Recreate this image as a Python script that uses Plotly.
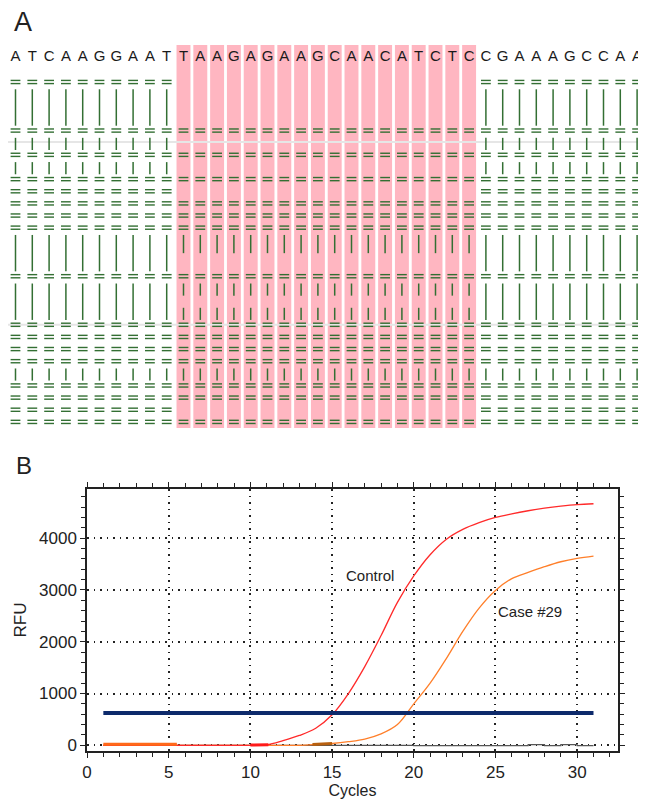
import plotly.graph_objects as go

# ---------------- Panel A data ----------------
sequence = list("ATCAAGGAATTAAGAGAAGCAACATCTCCGAAAGCCAA")
highlight_cols = list(range(10, 28))
flank_match_rows = [0, 4, 6, 8, 9, 10, 11, 12, 16, 20, 21, 22, 23, 25, 26, 27, 28]
flank_gap_segments = [(0, 4), (4, 6), (6, 8), (12, 16), (16, 20), (23, 25)]
core_match_rows = [4, 6, 8, 10, 11, 12, 16, 20, 21, 22, 23, 25, 26, 28]
core_gap_segments = [(12, 14.5), (16, 18), (18, 20), (23, 25)]
separator_rows = [4.94, 20.0]

# ---------------- Panel B data ----------------
cycles = list(range(1, 32))
control_rfu = [0, 0, 0, 0, 0, 0, 0, 0, 0, 0, 10, 90, 190, 330, 590, 1000, 1520, 2120,
               2760, 3270, 3680, 3980, 4170, 4300, 4400, 4470, 4530, 4580, 4620, 4650, 4665]
case29_rfu = [0, 0, 0, 0, 0, 0, 0, 0, 0, 0, 0, 0, 0, 15, 35, 70, 120, 220, 400, 800,
              1200, 1680, 2200, 2650, 2990, 3220, 3340, 3450, 3545, 3610, 3655]
ntc_rfu = [0, 0, 0, 0, 0, 0, 0, 0, 0, 0, 0, 0, 0, 0, 0, 0, 0, 0, 0, -8, -8, -8, -8, -8,
           -8, -8, 15, -8, 15, -8, -8]
threshold_rfu = 625
threshold_cycles = [1, 31]
base_case_cycles = [1, 5.5]
base_case_rfu = [20, 20]
base_ctrl_cycles = [10, 11.1]
base_ctrl_rfu = [5, 10]
base_case2_cycles = [13.8, 15]
base_case2_rfu = [15, 35]
xticks = [0, 5, 10, 15, 20, 25, 30]
yticks = [0, 1000, 2000, 3000, 4000]

GREEN = "#336f33"
W, H = 638, 792  # page body adds an 8px offset
fig = go.Figure()

# pink highlight columns
fig.add_trace(go.Bar(
    x=highlight_cols, y=[31.55] * len(highlight_cols), base=[-3.05] * len(highlight_cols),
    width=0.83, marker=dict(color="#ffb6c1", line=dict(width=0)),
    xaxis="x", yaxis="y", hoverinfo="skip", showlegend=False))

# separator gray lines
sx, sy = [], []
for r in separator_rows:
    sx += [-0.5, 38, None]
    sy += [r, r, None]
fig.add_trace(go.Scatter(x=sx, y=sy, mode="lines", line=dict(color="#e6e6e6", width=2),
                         xaxis="x", yaxis="y", hoverinfo="skip", showlegend=False))

# sequence letters
fig.add_trace(go.Scatter(
    x=list(range(len(sequence))), y=[-2] * len(sequence), mode="text", text=sequence,
    textfont=dict(family="Liberation Sans, Arial", size=15, color="#1a1a1a"), cliponaxis=False,
    xaxis="x", yaxis="y", hoverinfo="skip", showlegend=False))

# vertical bars and "=" marks
vx, vy, ex, ey = [], [], [], []
for i in range(len(sequence)):
    core = i in highlight_cols
    rows = core_match_rows if core else flank_match_rows
    segs = core_gap_segments if core else flank_gap_segments
    for a, b in segs:
        vx += [i, i, None]
        vy += [a + 0.6, b - 0.4, None]
    for r in rows:
        ex.append(i)
        ey.append(r)

fig.add_trace(go.Scatter(x=vx, y=vy, mode="lines", line=dict(color=GREEN, width=1.5),
                         xaxis="x", yaxis="y", hoverinfo="skip", showlegend=False))
for off in (-0.13, 0.13):
    fig.add_trace(go.Scatter(
        x=ex, y=[v + off for v in ey], mode="markers",
        marker=dict(symbol="line-ew", size=7, line=dict(color=GREEN, width=1.4)),
        xaxis="x", yaxis="y", hoverinfo="skip", showlegend=False))

# ---------------- Panel B traces ----------------
fig.add_trace(go.Scatter(x=cycles, y=ntc_rfu, mode="lines", line=dict(color="#555555", width=1.2, shape="hv"),
                         xaxis="x2", yaxis="y2", hoverinfo="skip", showlegend=False))
fig.add_trace(go.Scatter(x=cycles, y=case29_rfu, mode="lines", line=dict(color="#ff7f2a", width=1.3, shape="spline"),
                         xaxis="x2", yaxis="y2", showlegend=False, name="Case #29"))
fig.add_trace(go.Scatter(x=cycles, y=control_rfu, mode="lines", line=dict(color="#ff2a2a", width=1.3, shape="spline"),
                         xaxis="x2", yaxis="y2", showlegend=False, name="Control"))
fig.add_trace(go.Scatter(x=base_case_cycles, y=base_case_rfu, mode="lines", line=dict(color="#ff6a1a", width=3),
                         xaxis="x2", yaxis="y2", hoverinfo="skip", showlegend=False))
fig.add_trace(go.Scatter(x=base_ctrl_cycles, y=base_ctrl_rfu, mode="lines", line=dict(color="#ff1a1a", width=3),
                         xaxis="x2", yaxis="y2", hoverinfo="skip", showlegend=False))
fig.add_trace(go.Scatter(x=base_case2_cycles, y=base_case2_rfu, mode="lines", line=dict(color="#b8600f", width=3),
                         xaxis="x2", yaxis="y2", hoverinfo="skip", showlegend=False))
fig.add_trace(go.Scatter(x=threshold_cycles, y=[threshold_rfu] * 2, mode="lines",
                         line=dict(color="#0d2a6b", width=4),
                         xaxis="x2", yaxis="y2", hoverinfo="skip", showlegend=False))

FONT = "Liberation Sans, Arial, Helvetica, sans-serif"
fig.update_layout(
    width=W, height=H, margin=dict(l=0, r=0, t=0, b=0, autoexpand=False),
    paper_bgcolor="white", plot_bgcolor="rgba(0,0,0,0)",
    font=dict(family=FONT, color="#222222"),
    barmode="overlay", showlegend=False,
    xaxis=dict(domain=[0, 1], range=[-0.4464, 37.53], visible=False, fixedrange=True, automargin=False),
    yaxis=dict(domain=[1 - 427 / H, 1], range=[29.08, -6.096], visible=False, fixedrange=True, automargin=False),
    xaxis2=dict(domain=[79 / W, 610 / W], range=[0, 32.5], anchor="y2", automargin=False,
                tickvals=xticks, ticks="outside", ticklen=5, tickwidth=1.3, tickcolor="#222",
                minor=dict(dtick=1, tick0=0, ticks="outside", ticklen=4, tickcolor="#222", showgrid=False),
                showline=True, linecolor="#222", linewidth=1.5, mirror="allticks",
                showgrid=True, gridcolor="#222", gridwidth=1.5, griddash="1.5px,5px",
                zeroline=False, tickfont=dict(size=17, color="#222"),
                title=dict(text="Cycles", font=dict(size=16, color="#222"), standoff=2)),
    yaxis2=dict(domain=[1 - 743 / H, 1 - 481 / H], range=[-110, 4950], anchor="x2", automargin=False,
                tickvals=yticks, ticks="outside", ticklen=5, tickwidth=1.3, tickcolor="#222",
                minor=dict(dtick=200, tick0=0, ticks="outside", ticklen=4, tickcolor="#222", showgrid=False),
                showline=True, linecolor="#222", linewidth=1.5, mirror="allticks",
                showgrid=True, gridcolor="#222", gridwidth=1.5, griddash="1.5px,5px",
                zeroline=False, tickfont=dict(size=17, color="#222"),
                title=dict(text="RFU", font=dict(size=17, color="#222"), standoff=8)),
    annotations=[
        dict(text="A", x=15 / W, y=1 - 14 / H, xref="paper", yref="paper", showarrow=False,
             font=dict(size=27, color="#222"), xanchor="center", yanchor="middle"),
        dict(text="B", x=16 / W, y=1 - 457 / H, xref="paper", yref="paper", showarrow=False,
             font=dict(size=24, color="#222"), xanchor="center", yanchor="middle"),
        dict(text="Control", x=17.3, y=3270, xref="x2", yref="y2", showarrow=False,
             font=dict(size=15, color="#222")),
        dict(text="Case #29", x=27.1, y=2590, xref="x2", yref="y2", showarrow=False,
             font=dict(size=15, color="#222")),
    ],
)

fig.write_html("out.html")
